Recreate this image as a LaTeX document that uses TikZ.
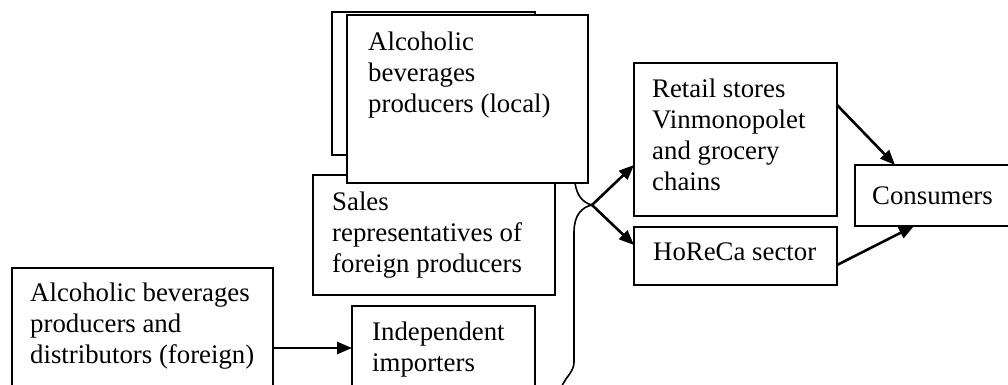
\documentclass[tikz,border=0pt]{standalone}
\usepackage{fontspec}
\setmainfont{Liberation Serif}
\usetikzlibrary{arrows.meta}

\begin{document}
\begin{tikzpicture}[x=1pt,y=-1pt,
  box/.style={draw,fill=white,line width=1.6pt,inner sep=0pt,outer sep=0pt,anchor=north west},
  txt/.style={anchor=north west,inner sep=0pt,align=left,font=\fontsize{26.8pt}{30.8pt}\selectfont},
  arr/.style={line width=2.6pt,-{Triangle[length=15pt,width=12pt]}},
  link/.style={line width=1.6pt}]
  \clip (0,0) rectangle (1008,385);
  \fill[white] (0,0) rectangle (1008,385);
  % producers and importers
  \node[box,minimum width=203pt,minimum height=143pt] (back) at (332,12) {};
  \node[box,minimum width=242pt,minimum height=120pt] (sales) at (313,175) {};
  \node[box,minimum width=241pt,minimum height=168pt] (local) at (347,15) {};
  \node[box,minimum width=183pt,minimum height=100pt] (importers) at (352,306) {};
  \node[box,minimum width=261pt,minimum height=140pt] (foreign) at (12,268) {};
  % trade channels
  \node[box,minimum width=203pt,minimum height=153pt] (retail) at (634,63) {};
  \node[box,minimum width=203pt,minimum height=58pt] (horeca) at (634,227) {};
  \node[box,minimum width=170pt,minimum height=61pt] (consumers) at (855,165) {};
  % texts
  \node[txt] (localtxt) at ([shift={(21pt,-17pt)}]local.north west) {Alcoholic\\beverages\\producers (local)};
  \node[txt] (salestxt) at ([shift={(19pt,-17pt)}]sales.north west) {Sales\\representatives of\\foreign producers};
  \node[txt] (importerstxt) at ([shift={(20pt,-16pt)}]importers.north west) {Independent\\importers};
  \node[txt] (foreigntxt) at ([shift={(18pt,-15pt)}]foreign.north west) {Alcoholic beverages\\producers and\\distributors (foreign)};
  \node[txt] (retailtxt) at ([shift={(18pt,-16pt)}]retail.north west) {Retail stores\\Vinmonopolet\\and grocery\\chains};
  \node[txt] (horecatxt) at ([shift={(19pt,-16pt)}]horeca.north west) {HoReCa sector};
  \node[txt] (consumerstxt) at ([shift={(17pt,-22pt)}]consumers.north west) {Consumers};
  % connectors
  \coordinate (jn) at (592,205);
  \coordinate (impout) at (561,388);
  \draw[link] ([xshift=-13pt]local.south east) .. controls (577,197) and (584,203) .. (jn);
  \draw[link] (jn) .. controls (582,207) and (574,215) .. (574,232) -- (574,362)
    .. controls (574,372) and (566,376) .. (impout);
  \draw[arr] (jn) -- ([yshift=51pt]retail.south west);
  \draw[arr] (jn) -- ([yshift=11pt]horeca.west);
  \draw[arr] ([yshift=-42pt]retail.north east) -- ([xshift=40pt]consumers.north west);
  \draw[arr] ([yshift=20pt]horeca.south east) -- ([xshift=59pt]consumers.south west);
  \draw[arr] (foreign.east |- 0,348) -- (importers.west |- 0,348);
\end{tikzpicture}
\end{document}
